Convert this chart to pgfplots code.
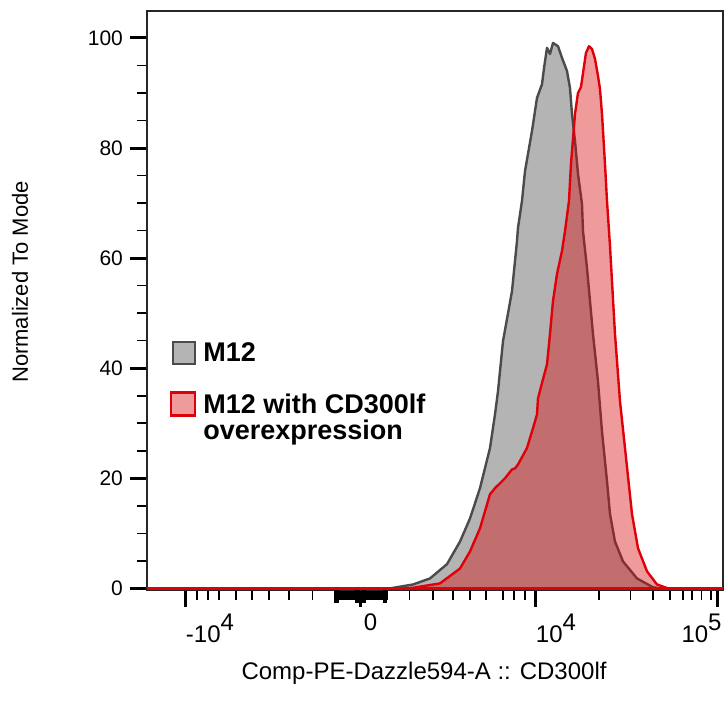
\documentclass[border=0pt]{standalone}
\usepackage{pgfplots}
\pgfplotsset{compat=1.18}
\usepackage{pgfplotstable}
\usepackage{fontspec}
\setmainfont{Liberation Sans}
\definecolor{cGrayFill}{RGB}{180,180,180}
\definecolor{cGrayLine}{RGB}{75,75,75}
\definecolor{cRedFill}{RGB}{218,11,11}
\definecolor{cRedLine}{RGB}{224,0,10}
\definecolor{cRedKey}{RGB}{240,155,155}

% x is the display position of the biexponential scale (0 = zero, 175 = 10^4)
\pgfplotstableread{
x y
-214 0
29 0
52 0.7
69 1.8
86 4.4
99 8.5
109 12.7
119 18.2
129 25.5
134 31.6
137 35.8
142 44.9
151 54.0
156 63.1
157 65.5
161 70.4
164 75.8
171 83.1
176 89.1
181 91.6
183 94.5
186 98.2
189 97.1
192 99.1
197 98.5
201 96.4
206 94.0
209 90.9
211 86.2
214 81.3
217 75.3
221 69.8
222 64.9
226 58.2
232 46.2
237 37.6
241 28.5
246 19.5
249 13.5
254 8.5
262 4.9
276 1.8
292 0.2
299 0
362 0
}\grayhist

\pgfplotstableread{
x y
-214 0
44 0
52 0.1
79 0.9
99 3.6
109 6.7
119 10.9
129 17.1
134 18.2
144 20.0
151 21.6
154 21.8
157 22.5
166 25.5
172 29.1
176 31.6
177 34.5
182 38.0
186 40.7
189 46.2
192 52.2
196 57.1
201 61.3
204 64.9
208 70.4
210 77.1
214 86.2
217 90.0
220 91.1
222 93.6
225 97.3
228 98.5
231 98.0
234 96.2
237 93.1
239 90.7
241 86.2
244 77.1
246 70.4
249 62.2
254 46.2
259 34.0
264 25.5
271 13.5
277 7.3
286 3.1
296 0.7
307 0
362 0
}\redhist

\begin{document}
\begin{tikzpicture}
\begin{axis}[
    scale only axis, width=288pt, height=289.5pt,
    xmin=-214, xmax=362, ymin=-0.3, ymax=104.9,
    axis line style={line width=0.9pt, black!85},
    tick align=outside, xtick pos=bottom, ytick pos=left,
    major tick length=8.5pt, minor tick length=5pt,
    every major tick/.append style={line width=1.5pt, black},
    every minor tick/.append style={line width=0.8pt, black},
    ytick={0,20,...,100}, minor y tick num=3,
    xtick={-175,0,175,356.6},
    xticklabels={\rlap{-10\raisebox{0.5em}{4}},\rlap{\hspace{1.5pt}0},\rlap{10\raisebox{0.5em}{4}},\llap{10\raisebox{0.5em}{5}\hspace{-2pt}}},
    minor xtick={-164,-153,-142,-125,-109,-92,-72,-48.5,
        -26,-24,-22,-20,-18,-16,-14,-12,-10,-8,-6,-4,-2,2,4,6,8,10,12,14,16,18,20,22,24,26,
        48.5,72,92,109,125,142,153,164,238,269.7,292,309,322,331,340.5,350},
    extra x ticks={-25,-23.5,-4,-2.5,2.5,4,23.5,25},
    extra x tick labels={},
    extra tick style={major tick length=6.5pt},
    xticklabel style={font=\fontsize{12}{14}\selectfont},
    yticklabel style={font=\fontsize{10.5}{12}\selectfont},
    /pgf/number format/assume math mode=true,
    clip mode=individual,
]
\addplot[draw=cGrayLine, fill=cGrayFill, line width=1.2pt, line join=round] table {\grayhist} \closedcycle;
\addplot[draw=cRedLine, fill=cRedFill, fill opacity=0.41, line width=1.2pt, line join=round] table {\redhist} \closedcycle;

% legend
\draw[cGrayLine, line width=1.3pt, fill=cGrayFill] (rel axis cs:0.0451,0.3903) rectangle (rel axis cs:0.0833,0.4283);
\draw[cRedLine, line width=1.3pt, fill=cRedKey] (rel axis cs:0.0416,0.3017) rectangle (rel axis cs:0.0833,0.3415);
\node[anchor=base west, inner sep=0pt, font=\bfseries\fontsize{13.5}{16}\selectfont]
    at (rel axis cs:0.0972,0.3938) {M12};
\node[anchor=base west, inner sep=0pt, font=\bfseries\fontsize{13.5}{16}\selectfont]
    at (rel axis cs:0.0972,0.3057) {M12 with CD300lf};
\node[anchor=base west, inner sep=0pt, font=\bfseries\fontsize{13.5}{16}\selectfont]
    at (rel axis cs:0.0972,0.2591) {overexpression};

% axis titles
\node[rotate=90, anchor=center, font=\fontsize{11}{13}\selectfont]
    at (rel axis cs:-0.2205,0.532) {Normalized To Mode};
\node[anchor=base, inner sep=0pt, font=\fontsize{12}{14}\selectfont]
    at (rel axis cs:0.481,-0.1554) {Comp-PE-Dazzle594-A :: CD300lf};

\coordinate (BL) at (rel axis cs:-0.2552,-0.1952);
\coordinate (TR) at (rel axis cs:1.0035,1.019);
\end{axis}
\pgfresetboundingbox
\path (BL) rectangle (TR);
\end{tikzpicture}
\end{document}
